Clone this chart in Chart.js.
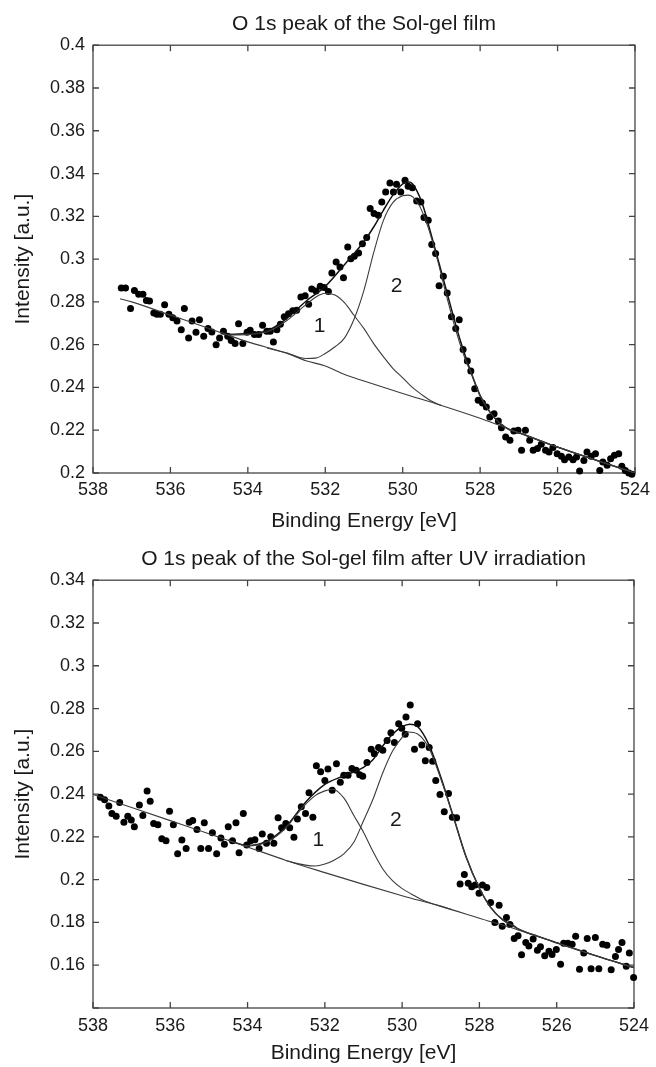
<!DOCTYPE html>
<html>
<head>
<meta charset="utf-8">
<script src="https://cdn.jsdelivr.net/npm/chart.js@4.4.1/dist/chart.umd.min.js"></script>
<style>
  html, body { margin: 0; padding: 0; background: #fff; }
  .panel { position: absolute; left: 0; width: 656px; }
</style>
</head>
<body>
<div class="panel" style="top:0;height:534px"><canvas id="grafica-arriba"></canvas></div>
<div class="panel" style="top:534px;height:533px"><canvas id="grafica-abajo"></canvas></div>
<script>
const FUENTE = "'Liberation Sans', Arial, Helvetica, sans-serif";
const peakNames = ['1', '2'];

// ---- panel de arriba: película sol-gel ----
const topTitle = 'O 1s peak of the Sol-gel film';
const topYTicks = [0.2, 0.4];
const topEnergy = [
  537.27, 537.16, 537.03, 536.93, 536.82, 536.71, 536.62, 536.54, 536.43, 536.35,
  536.26, 536.15, 536.04, 535.94, 535.83, 535.72, 535.64, 535.53, 535.44, 535.34,
  535.25, 535.14, 535.03, 534.93, 534.82, 534.73, 534.63, 534.52, 534.43, 534.33,
  534.24, 534.13, 534.02, 533.94, 533.83, 533.72, 533.62, 533.51, 533.42, 533.34,
  533.25, 533.16, 533.06, 532.95, 532.84, 532.74, 532.63, 532.52, 532.43, 532.35,
  532.24, 532.13, 532.03, 531.92, 531.83, 531.72, 531.62, 531.53, 531.42, 531.34,
  531.25, 531.14, 531.04, 530.93, 530.84, 530.74, 530.63, 530.54, 530.44, 530.33,
  530.24, 530.16, 530.05, 529.94, 529.86, 529.75, 529.64, 529.53, 529.45, 529.34,
  529.25, 529.15, 529.06, 528.95, 528.85, 528.74, 528.63, 528.54, 528.44, 528.33,
  528.24, 528.14, 528.05, 527.94, 527.84, 527.75, 527.64, 527.53, 527.45, 527.34,
  527.23, 527.13, 527.02, 526.93, 526.83, 526.72, 526.63, 526.52, 526.42, 526.31,
  526.22, 526.12, 526.01, 525.90, 525.82, 525.71, 525.60, 525.51, 525.43, 525.32,
  525.24, 525.13, 525.02, 524.91, 524.83, 524.72, 524.63, 524.53, 524.42, 524.34,
  524.25, 524.16, 524.08
];
const topIntensity = [
  0.2865, 0.2865, 0.2769, 0.2853, 0.2836, 0.2836, 0.2807, 0.2804, 0.2748, 0.2742,
  0.2742, 0.2787, 0.2742, 0.2726, 0.2711, 0.2670, 0.2769, 0.2631, 0.2711, 0.2658,
  0.2717, 0.2639, 0.2675, 0.2659, 0.2600, 0.2631, 0.2663, 0.2639, 0.2620, 0.2605,
  0.2698, 0.2605, 0.2658, 0.2667, 0.2647, 0.2647, 0.2691, 0.2663, 0.2663, 0.2613,
  0.2670, 0.2695, 0.2730, 0.2745, 0.2758, 0.2761, 0.2823, 0.2829, 0.2789, 0.2860,
  0.2851, 0.2873, 0.2867, 0.2848, 0.2935, 0.2987, 0.2963, 0.2913, 0.3057, 0.3002,
  0.3013, 0.3029, 0.3072, 0.3101, 0.3236, 0.3213, 0.3205, 0.3267, 0.3314, 0.3356,
  0.3314, 0.3350, 0.3314, 0.3369, 0.3341, 0.3333, 0.3272, 0.3267, 0.3194, 0.3182,
  0.3068, 0.3026, 0.2875, 0.2920, 0.2842, 0.2730, 0.2675, 0.2717, 0.2577, 0.2524,
  0.2477, 0.2394, 0.2340, 0.2327, 0.2309, 0.2262, 0.2277, 0.2243, 0.2212, 0.2168,
  0.2153, 0.2196, 0.2200, 0.2106, 0.2200, 0.2153, 0.2106, 0.2114, 0.2134, 0.2106,
  0.2098, 0.2119, 0.2090, 0.2078, 0.2062, 0.2075, 0.2062, 0.2075, 0.2009, 0.2059,
  0.2098, 0.2078, 0.2090, 0.2012, 0.2051, 0.2036, 0.2067, 0.2083, 0.2090, 0.2031,
  0.2012, 0.2000, 0.1994
];
const topBgE = [537.3, 537, 536, 535, 534, 533, 532.5, 532, 531.5, 531, 530, 529, 528, 527, 526, 525, 524];
const topBg  = [0.2815, 0.2800, 0.2738, 0.2676, 0.2613, 0.2560, 0.2525, 0.2500, 0.2460, 0.2430, 0.2372, 0.2316, 0.2256, 0.2188, 0.2121, 0.2060, 0.2000];
const topEnvE = [534.5, 534, 533.5, 533, 532.5, 532, 531.5, 531, 530.75, 530.5, 530.25, 530, 529.85, 529.75, 529.5, 529.25,
                 529, 528.75, 528.5, 528.25, 528, 527.75, 527.5, 527.25, 527, 526, 525, 524];
const topEnv  = [0.2648, 0.2652, 0.2665, 0.2722, 0.2803, 0.2872, 0.2975, 0.3082, 0.3150, 0.3228, 0.3300, 0.3352, 0.3360, 0.3352, 0.3262, 0.3105,
                 0.2940, 0.2772, 0.2612, 0.2478, 0.2362, 0.2286, 0.2234, 0.2203, 0.2188, 0.2121, 0.2060, 0.2000];
const topP1E = [534.5, 534, 533.5, 533, 532.5, 532.25, 532, 531.75, 531.5, 531.25, 531, 530.75, 530.5, 530.25, 530, 529.75, 529.5, 529.25, 529];
const topP1  = [0.2645, 0.2648, 0.2660, 0.2712, 0.2787, 0.2822, 0.2840, 0.2832, 0.2795, 0.2735, 0.2675, 0.2605, 0.2544, 0.2488, 0.2445, 0.2400, 0.2365, 0.2335, 0.2316];
const topP2E = [533.5, 533, 532.5, 532.25, 532, 531.75, 531.5, 531.25, 531, 530.75, 530.5, 530.25, 530, 529.85, 529.6, 529.35, 529.1, 528.85,
                528.6, 528.35, 528.25, 528, 527.75, 527.5, 527.25, 527, 526, 525, 524];
const topP2  = [0.2583, 0.2562, 0.2535, 0.2537, 0.2559, 0.2590, 0.2632, 0.2722, 0.2855, 0.3030, 0.3180, 0.3265, 0.3296, 0.3299, 0.3260, 0.3152, 0.2995, 0.2815,
                0.2650, 0.2515, 0.2476, 0.2361, 0.2285, 0.2234, 0.2203, 0.2188, 0.2121, 0.2060, 0.2000];
const topPeakE = [532.15, 530.16];
const topPeakI = [0.2684, 0.2874];

// ---- panel de abajo: después de irradiación UV ----
const bottomTitle = 'O 1s peak of the Sol-gel film after UV irradiation';
const bottomYTicks = [0.14, 0.34];
const bottomEnergy = [
  537.81, 537.70, 537.59, 537.51, 537.40, 537.31, 537.20, 537.10, 537.01, 536.93,
  536.80, 536.71, 536.60, 536.52, 536.43, 536.32, 536.22, 536.11, 536.02, 535.92,
  535.81, 535.70, 535.59, 535.51, 535.42, 535.31, 535.21, 535.12, 535.01, 534.91,
  534.80, 534.69, 534.60, 534.50, 534.39, 534.30, 534.22, 534.11, 534.02, 533.92,
  533.81, 533.70, 533.62, 533.51, 533.40, 533.32, 533.21, 533.12, 533.01, 532.91,
  532.80, 532.71, 532.61, 532.50, 532.41, 532.31, 532.22, 532.11, 532.00, 531.92,
  531.81, 531.70, 531.60, 531.51, 531.40, 531.30, 531.19, 531.10, 531.02, 530.91,
  530.80, 530.72, 530.61, 530.50, 530.39, 530.29, 530.20, 530.09, 530.01, 529.90,
  529.92, 529.79, 529.68, 529.60, 529.49, 529.40, 529.30, 529.21, 529.13, 529.02,
  528.91, 528.80, 528.70, 528.59, 528.50, 528.39, 528.29, 528.20, 528.11, 528.01,
  527.92, 527.81, 527.71, 527.60, 527.49, 527.41, 527.30, 527.21, 527.10, 527.00,
  526.91, 526.80, 526.72, 526.61, 526.50, 526.42, 526.31, 526.20, 526.12, 526.01,
  525.90, 525.82, 525.71, 525.60, 525.51, 525.41, 525.30, 525.21, 525.11, 525.00,
  524.91, 524.81, 524.70, 524.59, 524.48, 524.40, 524.31, 524.20, 524.12, 524.01
];
const bottomIntensity = [
  0.2385, 0.2374, 0.2344, 0.2309, 0.2296, 0.2361, 0.2268, 0.2296, 0.2279, 0.2247,
  0.2349, 0.2300, 0.2415, 0.2366, 0.2263, 0.2257, 0.2191, 0.2182, 0.2320, 0.2257,
  0.2121, 0.2185, 0.2146, 0.2268, 0.2276, 0.2235, 0.2146, 0.2266, 0.2146, 0.2219,
  0.2121, 0.2195, 0.2165, 0.2247, 0.2182, 0.2266, 0.2126, 0.2309, 0.2162, 0.2182,
  0.2186, 0.2146, 0.2214, 0.2170, 0.2201, 0.2170, 0.2289, 0.2243, 0.2263, 0.2243,
  0.2198, 0.2284, 0.2341, 0.2309, 0.2406, 0.2292, 0.2532, 0.2504, 0.2463, 0.2517,
  0.2418, 0.2542, 0.2455, 0.2488, 0.2488, 0.2520, 0.2512, 0.2491, 0.2483, 0.2548,
  0.2610, 0.2589, 0.2618, 0.2605, 0.2651, 0.2687, 0.2641, 0.2729, 0.2708, 0.2760,
  0.2680, 0.2817, 0.2610, 0.2729, 0.2630, 0.2556, 0.2618, 0.2553, 0.2463, 0.2398,
  0.2317, 0.2403, 0.2292, 0.2289, 0.1980, 0.2024, 0.1983, 0.1967, 0.1975, 0.1937,
  0.1975, 0.1963, 0.1893, 0.1800, 0.1880, 0.1782, 0.1823, 0.1790, 0.1725, 0.1738,
  0.1649, 0.1706, 0.1690, 0.1722, 0.1670, 0.1686, 0.1644, 0.1665, 0.1650, 0.1673,
  0.1605, 0.1703, 0.1703, 0.1698, 0.1736, 0.1581, 0.1657, 0.1725, 0.1584, 0.1730,
  0.1584, 0.1698, 0.1693, 0.1579, 0.1641, 0.1673, 0.1706, 0.1595, 0.1657, 0.1543
];
const bottomBgE = [538, 537, 536, 535, 534, 533, 532, 531, 530, 529, 528, 527, 526, 525, 524];
const bottomBg  = [0.2398, 0.2337, 0.2276, 0.2215, 0.2153, 0.2090, 0.2033, 0.1978, 0.1925, 0.1875, 0.1820, 0.1765, 0.1705, 0.1645, 0.1589];
const bottomEnvE = [534.5, 534, 533.5, 533, 532.5, 532, 531.5, 531, 530.75, 530.5, 530.25, 530, 529.8, 529.6, 529.3, 529,
                    528.67, 528.35, 528, 527.7, 527.4, 527.1, 527, 526.5, 526, 525, 524];
const bottomEnv  = [0.2184, 0.2160, 0.2180, 0.2250, 0.2362, 0.2445, 0.2486, 0.2525, 0.2562, 0.2625, 0.2680, 0.2715, 0.2727, 0.2716, 0.2628, 0.2480,
                    0.2292, 0.2110, 0.1960, 0.1868, 0.1813, 0.1783, 0.1770, 0.1736, 0.1705, 0.1645, 0.1589];
const bottomP1E = [534.5, 534, 533.5, 533, 532.75, 532.5, 532.25, 532, 531.8, 531.5, 531.25, 531, 530.75, 530.5, 530.25, 530, 529.75, 529.5, 529.25, 529, 528.7];
const bottomP1  = [0.2184, 0.2158, 0.2176, 0.2243, 0.2300, 0.2352, 0.2393, 0.2415, 0.2423, 0.2380, 0.2300, 0.2222, 0.2130, 0.2050, 0.1995, 0.1958, 0.1932, 0.1907, 0.1890, 0.1877, 0.1859];
const bottomP2E = [533, 532.5, 532.25, 532, 531.75, 531.5, 531.25, 531, 530.75, 530.5, 530.25, 530, 529.85, 529.6, 529.3, 529,
                   528.67, 528.35, 528, 527.7, 527.4, 527.1, 527, 526, 525, 524];
const bottomP2  = [0.2088, 0.2068, 0.2064, 0.2073, 0.2092, 0.2122, 0.2175, 0.2275, 0.2378, 0.2500, 0.2600, 0.2665, 0.2690, 0.2681, 0.2612, 0.2472,
                   0.2292, 0.2108, 0.1960, 0.1868, 0.1812, 0.1780, 0.1770, 0.1705, 0.1645, 0.1589];
const bottomPeakE = [532.17, 530.16];
const bottomPeakI = [0.2186, 0.2279];

function puntos(xs, ys) {
  return xs.map((x, i) => ({ x: x, y: ys[i] }));
}

// marco con marcas hacia dentro en los cuatro lados, y las etiquetas 1 / 2
const marcoEjes = {
  id: 'marcoEjes',
  beforeDatasetsDraw(chart) {
    const { ctx, chartArea: a, scales } = chart;
    ctx.save();
    ctx.strokeStyle = '#444';
    ctx.lineWidth = 1.3;
    ctx.strokeRect(a.left, a.top, a.right - a.left, a.bottom - a.top);
    ctx.beginPath();
    scales.x.ticks.forEach(t => {
      const px = scales.x.getPixelForValue(t.value);
      ctx.moveTo(px, a.bottom); ctx.lineTo(px, a.bottom - 6);
      ctx.moveTo(px, a.top); ctx.lineTo(px, a.top + 6);
    });
    scales.y.ticks.forEach(t => {
      const py = scales.y.getPixelForValue(t.value);
      ctx.moveTo(a.left, py); ctx.lineTo(a.left + 6, py);
      ctx.moveTo(a.right, py); ctx.lineTo(a.right - 6, py);
    });
    ctx.stroke();
    ctx.restore();
  },
  afterDatasetsDraw(chart, args, opts) {
    const { ctx, scales } = chart;
    ctx.save();
    ctx.fillStyle = '#1a1a1a';
    ctx.font = '21px ' + FUENTE;
    ctx.textAlign = 'center';
    ctx.textBaseline = 'middle';
    opts.names.forEach((n, i) => {
      ctx.fillText(n, scales.x.getPixelForValue(opts.energy[i]), scales.y.getPixelForValue(opts.intensity[i]));
    });
    ctx.restore();
  }
};

function curva(data, width, color) {
  return {
    data: data,
    showLine: true,
    borderColor: color,
    borderWidth: width,
    pointRadius: 0,
    fill: false,
    cubicInterpolationMode: 'monotone'
  };
}

function crearGrafica(id, p) {
  const ctx = document.getElementById(id).getContext('2d');
  return new Chart(ctx, {
    type: 'scatter',
    data: {
      datasets: [
        curva(puntos(p.bgE, p.bg), 1.1, '#3c3c3c'),
        curva(puntos(p.p1E, p.p1), 1.1, '#3c3c3c'),
        curva(puntos(p.p2E, p.p2), 1.1, '#3c3c3c'),
        curva(puntos(p.envE, p.env), 1.5, '#111'),
        {
          data: puntos(p.energy, p.intensity),
          backgroundColor: '#000',
          borderWidth: 0,
          pointRadius: 3.5,
          clip: false
        }
      ]
    },
    options: {
      responsive: true,
      maintainAspectRatio: false,
      animation: false,
      events: [],
      layout: { padding: { left: 0, right: 18, top: 0, bottom: 0 } },
      scales: {
        x: {
          type: 'linear',
          reverse: true,
          min: 524,
          max: 538,
          border: { display: false },
          grid: { display: false, drawTicks: false },
          ticks: {
            stepSize: 2,
            autoSkip: false,
            maxRotation: 0,
            padding: p.tickPad,
            color: '#1a1a1a',
            font: { family: FUENTE, size: 18 }
          },
          title: {
            display: true,
            text: 'Binding Energy [eV]',
            color: '#1a1a1a',
            font: { family: FUENTE, size: 21 },
            padding: { top: 0, bottom: p.xTitlePad }
          },
          afterFit(scale) { scale.height = p.xHeight; }
        },
        y: {
          type: 'linear',
          min: p.yTicks[0],
          max: p.yTicks[1],
          border: { display: false },
          grid: { display: false, drawTicks: false },
          ticks: {
            stepSize: 0.02,
            padding: 8,
            color: '#1a1a1a',
            font: { family: FUENTE, size: 18 },
            callback: v => {
              const r = Math.round(v * 100) / 100;
              return p.hideFirst && r === p.yTicks[0] ? '' : String(r);
            }
          },
          title: {
            display: true,
            text: 'Intensity [a.u.]',
            color: '#1a1a1a',
            font: { family: FUENTE, size: 21 },
            padding: { top: 11, bottom: 0 }
          },
          afterFit(scale) { scale.width = 93; }
        }
      },
      plugins: {
        legend: { display: false },
        tooltip: { enabled: false },
        title: {
          display: true,
          fullSize: false,   // centrado sobre el área del gráfico, no sobre el lienzo
          text: p.title,
          color: '#1a1a1a',
          font: { family: FUENTE, size: 21, weight: 'normal' },
          padding: { top: p.titleTop, bottom: p.titleBottom }
        },
        marcoEjes: { names: peakNames, energy: p.peakE, intensity: p.peakI }
      }
    },
    plugins: [marcoEjes]
  });
}

crearGrafica('grafica-arriba', {
  title: topTitle, yTicks: topYTicks, hideFirst: false,
  energy: topEnergy, intensity: topIntensity,
  bgE: topBgE, bg: topBg, envE: topEnvE, env: topEnv,
  p1E: topP1E, p1: topP1, p2E: topP2E, p2: topP2,
  peakE: topPeakE, peakI: topPeakI,
  titleTop: 12, titleBottom: 8, xHeight: 61, tickPad: 6, xTitlePad: 0.5
});

crearGrafica('grafica-abajo', {
  title: bottomTitle, yTicks: bottomYTicks, hideFirst: true,
  energy: bottomEnergy, intensity: bottomIntensity,
  bgE: bottomBgE, bg: bottomBg, envE: bottomEnvE, env: bottomEnv,
  p1E: bottomP1E, p1: bottomP1, p2E: bottomP2E, p2: bottomP2,
  peakE: bottomPeakE, peakI: bottomPeakI,
  titleTop: 13, titleBottom: 8, xHeight: 59, tickPad: 7, xTitlePad: 1.5
});
</script>
</body>
</html>
